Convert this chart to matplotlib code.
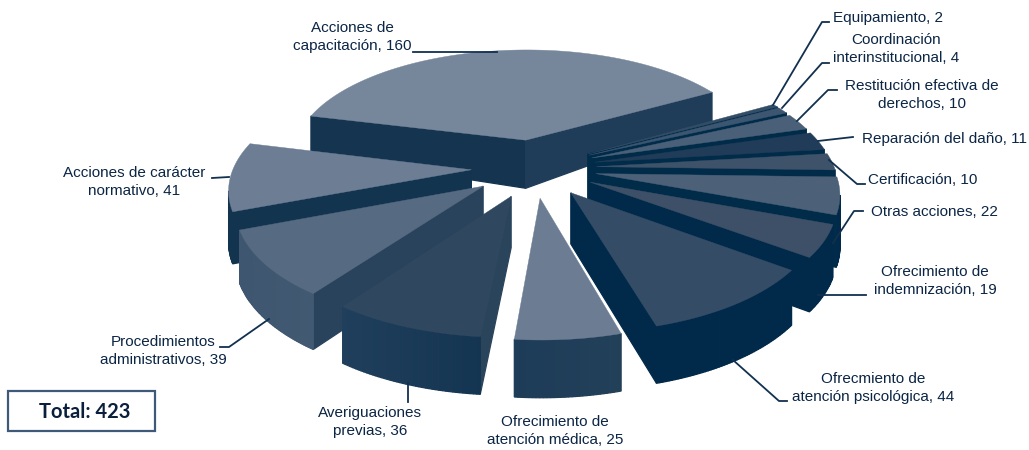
"""
Pastel 3D explotado de acciones (total 423), proyectado a mano sobre un eje plano.
"""
import numpy as np
import matplotlib
matplotlib.use("Agg")
import matplotlib.pyplot as plt
from matplotlib.colors import to_rgb
from matplotlib.patches import Polygon, Rectangle

# datos
categorias = ["Acciones de\ncapacitación", "Equipamiento", "Coordinación\ninterinstitucional",
              "Restitución efectiva de\nderechos", "Reparación del daño", "Certificación",
              "Otras acciones", "Ofrecimiento de\nindemnización", "Ofrecmiento de\natención psicológica",
              "Ofrecimiento de\natención médica", "Averiguaciones\nprevias",
              "Procedimientos\nadministrativos", "Acciones de carácter\nnormativo"]
valores = [160, 2, 4, 10, 11, 10, 22, 19, 44, 25, 36, 39, 41]
total = 423

# estilo por rebanada
color_tapa = ["#76869b", "#334d66", "#3c5570", "#4a6078", "#213c58", "#3e5269", "#4c6078",
              "#3d5067", "#344c66", "#6b7c93", "#2f475f", "#566a82", "#6c7d94"]
color_arco = [("#1f3d58", "#1f3d58"), ("#002c4a", "#002c4a"), ("#002c4a", "#002c4a"),
              ("#002c4a", "#002c4a"), ("#002c4a", "#002c4a"), ("#002c4a", "#002c4a"),
              ("#00294a", "#00294a"), ("#00294a", "#00294a"), ("#00294a", "#00294a"),
              ("#1d3c58", "#234059"), ("#1f3f5c", "#12334f"), ("#3e566f", "#4a6078"),
              ("#12344f", "#12344f")]
color_lado = ["#14344f", "#002c4a", "#002c4a", "#002c4a", "#002c4a", "#002c4a", "#002c4a",
              "#00294a", "#00294a", "#1d3c58", "#2a445c", "#2a435c", "#12344f"]
color_lado_der = {0: "#1f3d58", 10: "#24405a", 11: "#2a435c"}

# posicion de etiquetas (x, y, alineacion) y lineas guia
pos_etiquetas = [(352, 37, "center"), (833, 18, "left"), (896, 49, "center"), (922, 95, "center"),
                 (862, 139, "left"), (868, 180, "left"), (871, 212, "left"), (935, 281, "center"),
                 (873, 388, "center"), (555, 431, "center"), (370, 422, "center"),
                 (163, 351, "center"), (134, 182, "center")]
guias = [[(413, 52), (497, 52)], [(773, 105), (822, 22), (829, 22)], [(782, 108), (822, 63), (829, 63)],
         [(797, 121), (828, 90), (837, 90)], [(818, 141), (853, 137)],
         [(829, 160), (857, 184), (865, 184)], [(833, 243), (854, 211), (863, 211)],
         [(818, 295), (866, 295)], [(733, 360), (779, 401), (787, 401)], None,
         [(408, 383), (408, 402)], [(269, 319), (229, 347), (220, 347)], [(229, 177), (212, 178)]]

# parametros de la proyeccion
CX, CY = 534, 168
W, A, D = 238, 111, 6.8
EXPLOSION = 0.263
INICIO = 166.0


def proyectar(u, v):
    f = 1 + v / D
    return CX + W * u / f, CY - A * v / f


def altura(v):
    return np.interp(v, [-1.3, 0.28, 0.8], [58, 48, 27])


def mezclar(c1, c2, t):
    return tuple((1 - t) * a + t * b for a, b in zip(to_rgb(c1), to_rgb(c2)))


fig = plt.figure(figsize=(10.29, 4.5), dpi=100)
ax = fig.add_axes([0, 0, 1, 1])
ax.set_xlim(0, 1029)
ax.set_ylim(450, 0)
ax.axis("off")

fracciones = np.array(valores) / sum(valores) * 360
fin = INICIO - np.cumsum(fracciones)
ini = fin + fracciones
medios = (ini + fin) / 2

for i in sorted(range(len(valores)), key=lambda k: -np.sin(np.radians(medios[k]))):
    mid = np.radians(medios[i])
    theta = np.radians(np.linspace(ini[i], fin[i], max(int(fracciones[i] * 1.5), 4)))
    du, dv = EXPLOSION * np.cos(mid), EXPLOSION * np.sin(mid)
    u = np.concatenate([[du], du + np.cos(theta)])
    v = np.concatenate([[dv], dv + np.sin(theta)])
    x, y = proyectar(u, v)
    h = altura(v)
    n = len(x)
    for j in range(n):
        k = (j + 1) % n
        if x[k] - x[j] >= 0:   # cara trasera
            continue
        if j == 0:
            color = color_lado[i]
        elif k == 0:
            color = color_lado_der.get(i, color_lado[i])
        else:
            color = mezclar(*color_arco[i], (x[j] - x.min()) / (x.max() - x.min()))
        ax.add_patch(Polygon([(x[j], y[j]), (x[k], y[k]), (x[k], y[k] + h[k]), (x[j], y[j] + h[j])],
                             facecolor=color, edgecolor=color, linewidth=0.9))
    ax.add_patch(Polygon(np.column_stack([x, y]), facecolor=color_tapa[i], edgecolor=color_tapa[i],
                         linewidth=0.3))

for nombre, valor, (px, py, al), guia in zip(categorias, valores, pos_etiquetas, guias):
    ax.text(px, py, f"{nombre}, {valor}", ha=al, va="center", multialignment="center",
            fontsize=11, color="#0b2545", family="Liberation Sans", linespacing=1.36)
    if guia:
        gx, gy = zip(*guia)
        ax.plot(gx, gy, color="#12304f", linewidth=1.3)

ax.add_patch(Rectangle((8, 391), 147, 40, facecolor="white", edgecolor="#3f5a78", linewidth=1.6))
ax.text(85, 412, f"Total: {total}", ha="center", va="center", fontsize=14.5, fontweight="bold",
        color="#0a1f3c", family="Lato")

fig.savefig("out.png", dpi=100)
